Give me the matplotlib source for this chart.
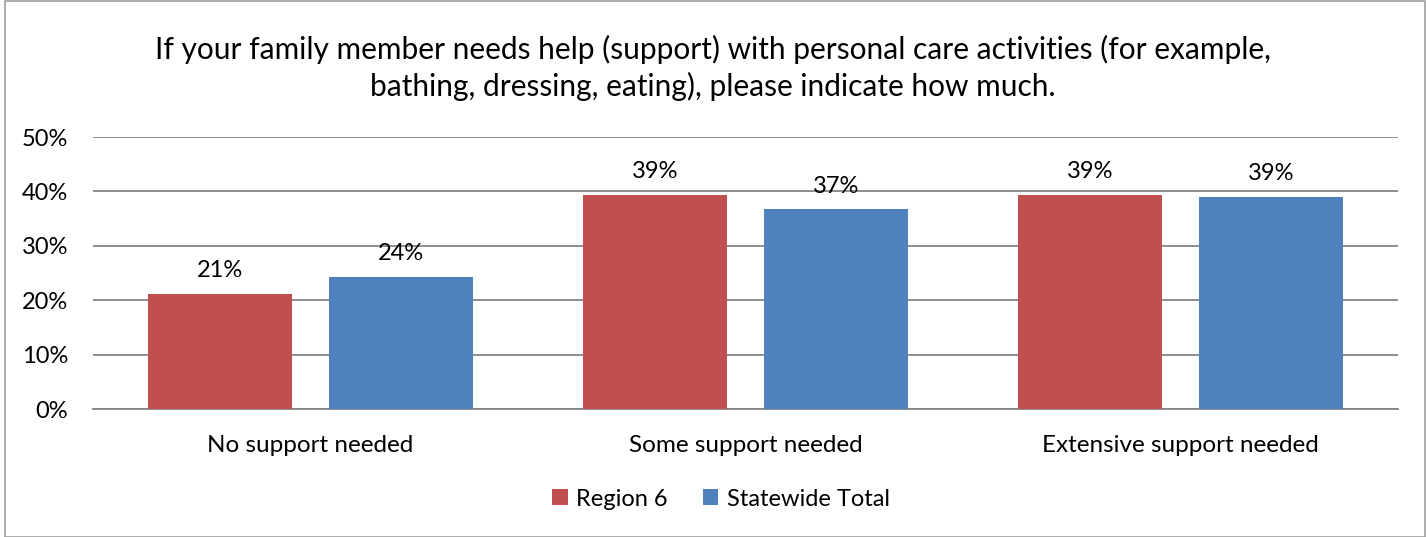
import matplotlib
matplotlib.use("Agg")
import matplotlib.pyplot as plt
import numpy as np
from matplotlib.patches import Rectangle

categories = ["No support needed", "Some support needed", "Extensive support needed"]
region6 = [21.2, 39.4, 39.4]
statewide = [24.3, 36.7, 39.0]
series_names = ["Region 6", "Statewide Total"]
title = ("If your family member needs help (support) with personal care activities (for example,\n"
         "bathing, dressing, eating), please indicate how much.")

plt.rcParams['font.family'] = ['Lato', 'DejaVu Sans']

W, H = 1426, 537
fig = plt.figure(figsize=(W/100, H/100), dpi=100)
ax = fig.add_axes([93/W, 1-409/H, (1398-93)/W, (409-137)/H])

x = np.arange(len(categories))
bw = 0.331
off = 0.208
red = "#C0504D"
blue = "#4F81BD"
fs = 17
b1 = ax.bar(x - off, region6, bw, color=red, label=series_names[0], zorder=3)
b2 = ax.bar(x + off, statewide, bw, color=blue, label=series_names[1], zorder=3)

for bars, vals in ((b1, region6), (b2, statewide)):
    for r, v in zip(bars, vals):
        ax.annotate(f"{v:.0f}%", (r.get_x() + r.get_width()/2, v), xytext=(0, 9),
                    textcoords="offset points", ha="center", va="bottom", fontsize=fs, color="#000000")

ax.set_xlim(-0.5, 2.5)
ax.set_ylim(0, 50)
ax.set_yticks(range(0, 51, 10))
ax.set_yticklabels([f"{t}%" for t in range(0, 51, 10)], fontsize=fs)
ax.set_xticks(x)
ax.set_xticklabels(categories, fontsize=17.5)
ax.tick_params(axis='both', length=0)
ax.tick_params(axis='y', pad=18)
ax.tick_params(axis='x', pad=19)
ax.grid(axis='y', color="#868686", linewidth=1.3, zorder=0)
for s in ("top", "right", "left"):
    ax.spines[s].set_visible(False)
ax.spines["bottom"].set_color("#868686")
ax.spines["bottom"].set_linewidth(1.3)

fig.text(0.5, 1-68/H, title, ha="center", va="center", fontsize=21.5, linespacing=1.3)

fig.legend(handles=[b1, b2], labels=series_names, loc="center", bbox_to_anchor=(721/W, 1-499/H),
           ncol=2, frameon=False, fontsize=17, handlelength=0.65, handleheight=0.65,
           handletextpad=0.35, columnspacing=1.5)

fig.patches.append(Rectangle((5/W, 0), 1 - 6/W, 1 - 1/H, transform=fig.transFigure,
                             fill=False, edgecolor="#A0A0A0", linewidth=1.2))

fig.savefig("out.png", dpi=100)
